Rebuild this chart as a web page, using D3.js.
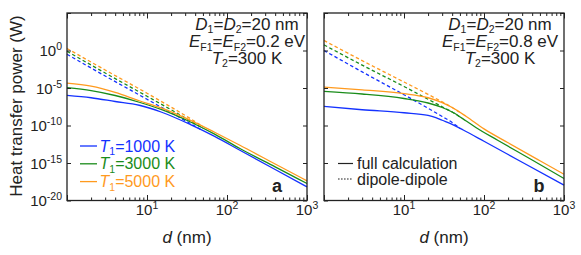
<!DOCTYPE html>
<html>
<head>
<meta charset="utf-8">
<script src="https://cdn.jsdelivr.net/npm/d3@7"></script>
<style>
  body { margin: 0; background: #fff; }
  text { font-family: "Liberation Sans", Arial, Helvetica, sans-serif; }
</style>
</head>
<body>
<div id="chart"></div>
<script>
// ---- data (log10 of heat transfer power in W) ----
const temps = [1000, 3000, 5000]; // T1 in K

// panel a : EF = 0.2 eV
const aFullD = [1, 2, 4, 8, 15, 35, 70, 145, 400, 1000];
const aFull1000 = [-5.98, -6.3, -6.8, -7.3, -8.2, -9.88, -11.45, -13.3, -15.87, -18.18];
const aFull3000 = [-4.96, -5.35, -6.0, -6.9, -7.85, -9.53, -11.15, -13.07, -15.52, -17.73];
const aFull5000 = [-4.35, -4.75, -5.58, -6.7, -7.65, -9.31, -10.9, -12.63, -15.13, -17.38];
const aDipD = [1, 3, 10, 20, 35, 50];
const aDip1000 = [-0.5, -3.4, -6.5, -8.3, -9.75, -10.71];
const aDip3000 = [-0.1, -3.0, -6.1, -7.9, -9.4, -10.39];
const aDip5000 = [0.27, -2.6, -5.7, -7.55, -9.1, -10.15];

// panel b : EF = 0.8 eV
const bFullD1000 = [1, 3, 10, 20, 25, 30, 40, 55, 100, 300, 1000];
const bFull1000 = [-7.45, -7.9, -8.3, -8.65, -8.95, -9.3, -9.85, -10.6, -12.1, -14.9, -17.95];
const bFullD3000 = [1, 3, 10, 20, 30, 40, 60, 80, 150, 400, 1000];
const bFull3000 = [-5.45, -5.8, -6.4, -7.0, -7.6, -8.2, -9.4, -10.3, -12.0, -14.6, -17.06];
const bFullD5000 = [1, 3, 10, 20, 30, 40, 60, 100, 200, 500, 1000];
const bFull5000 = [-4.88, -5.25, -5.75, -6.3, -6.95, -7.6, -8.8, -10.45, -12.3, -14.7, -16.5];
const bDipD = [1, 3, 10, 20, 30, 40, 50];
const bDip1000 = [0, -2.85, -5.9, -7.7, -8.8, -9.6, -10.4];
const bDip3000 = [0.75, -1.95, -4.8, -6.5, -7.5, -8.2, -8.86];
const bDip5000 = [1.33, -1.35, -4.2, -5.85, -6.85, -7.6, -8.26];

// axis ticks
const xMajor = [1, 10, 100, 1000];
const xLabels = [10, 100, 1000];
const yMajor = [1e-20, 1e-15, 1e-10, 1e-5, 1e0, 1e5];
const yLabels = [1e-20, 1e-15, 1e-10, 1e-5, 1e0];

const colors = ["#1432ff", "#1a8c1a", "#ff9a1e"];
const ink = "#222";

const width = 581, height = 255;
const plotTop = 13, plotBottom = 200.5;

const svg = d3.select("#chart").append("svg")
  .attr("width", width)
  .attr("height", height);

const y = d3.scaleLog([1e-20, 1e5], [plotBottom, plotTop]);

const panels = [
  {
    x0: 67, x1: 307, letter: "a", ef: "0.2", cx: 247, ylabels: true,
    full: [[aFullD, aFull1000], [aFullD, aFull3000], [aFullD, aFull5000]],
    dip: [[aDipD, aDip1000], [aDipD, aDip3000], [aDipD, aDip5000]],
  },
  {
    x0: 324, x1: 564, letter: "b", ef: "0.8", cx: 500, ylabels: false,
    full: [[bFullD1000, bFull1000], [bFullD3000, bFull3000], [bFullD5000, bFull5000]],
    dip: [[bDipD, bDip1000], [bDipD, bDip3000], [bDipD, bDip5000]],
  },
];

const xMinor = [];
[1, 10, 100].forEach((dec) => {
  for (let k = 2; k <= 9; k++) xMinor.push(dec * k);
});

function pow10(t, exp) {
  t.append("tspan").text("10");
  t.append("tspan").attr("font-size", 10.5).attr("dy", -6).text(exp);
}

// parts: [text, "i" italic | "s" subscript | ""]
function rich(t, parts, subSize = 10.5, drop = 3.5) {
  let shift = 0;
  parts.forEach(([s, kind]) => {
    const want = kind === "s" ? drop : 0;
    const ts = t.append("tspan").text(s);
    if (want !== shift) ts.attr("dy", want - shift);
    if (kind === "s") ts.attr("font-size", subSize);
    if (kind === "i") ts.attr("font-style", "italic");
    shift = want;
  });
}

panels.forEach((p) => {
  const x = d3.scaleLog([1, 1000], [p.x0, p.x1]);
  const g = svg.append("g");

  const line = d3.line()
    .x((d) => x(d[0]))
    .y((d) => y(Math.pow(10, d[1])))
    .curve(d3.curveMonotoneX);

  // dipole-dipole (dashed)
  p.dip.forEach(([D, V], i) => {
    g.append("path")
      .attr("fill", "none")
      .attr("stroke", colors[i])
      .attr("stroke-width", 1.3)
      .attr("stroke-dasharray", "3.5,2.5")
      .attr("d", line(D.map((d, j) => [d, V[j]])));
  });

  // full calculation (solid)
  p.full.forEach(([D, V], i) => {
    g.append("path")
      .attr("fill", "none")
      .attr("stroke", colors[i])
      .attr("stroke-width", 1.3)
      .attr("d", line(D.map((d, j) => [d, V[j]])));
  });

  // ticks, all pointing inward
  const tickAxis = (axis, vals, size) => axis.tickValues(vals).tickSize(-size).tickFormat(() => "");
  const addAxis = (axis, tr) => {
    g.append("g").attr("transform", tr).call(axis)
      .call((a) => a.select(".domain").remove())
      .call((a) => a.selectAll(".tick line").attr("stroke", ink).attr("stroke-width", 1));
  };
  addAxis(tickAxis(d3.axisBottom(x), xMajor, 5.5), `translate(0,${plotBottom})`);
  addAxis(tickAxis(d3.axisBottom(x), xMinor, 3), `translate(0,${plotBottom})`);
  addAxis(tickAxis(d3.axisTop(x), xMajor, 5.5), `translate(0,${plotTop})`);
  addAxis(tickAxis(d3.axisTop(x), xMinor, 3), `translate(0,${plotTop})`);
  addAxis(tickAxis(d3.axisLeft(y), yMajor, 4), `translate(${p.x0},0)`);
  addAxis(tickAxis(d3.axisRight(y), yMajor, 4), `translate(${p.x1},0)`);

  // frame
  g.append("rect")
    .attr("x", p.x0).attr("y", plotTop)
    .attr("width", p.x1 - p.x0).attr("height", plotBottom - plotTop)
    .attr("fill", "none").attr("stroke", ink).attr("stroke-width", 1.3);

  // x tick labels
  g.selectAll(".xl").data(xLabels).join("text")
    .attr("x", (d) => x(d)).attr("y", 215)
    .attr("text-anchor", "middle").attr("font-size", 15).attr("fill", ink)
    .each(function (d) { pow10(d3.select(this), String(Math.round(Math.log10(d)))); });

  // y tick labels
  if (p.ylabels) {
    g.selectAll(".yl").data(yLabels).join("text")
      .attr("x", 62).attr("y", (d) => y(d) + 5.5)
      .attr("text-anchor", "end").attr("font-size", 15).attr("fill", ink)
      .each(function (d) { pow10(d3.select(this), String(Math.round(Math.log10(d)))); });
  }

  // x axis title
  rich(g.append("text")
    .attr("x", (p.x0 + p.x1) / 2).attr("y", 243)
    .attr("text-anchor", "middle").attr("font-size", 17).attr("fill", ink),
    [["d", "i"], [" (nm)", ""]]);

  // parameters
  const ann = g.append("g").attr("fill", ink).attr("font-size", 17).attr("text-anchor", "middle");
  rich(ann.append("text").attr("x", p.cx).attr("y", 29.5),
    [["D", "i"], ["1", "s"], ["=", ""], ["D", "i"], ["2", "s"], ["=20 nm", ""]]);
  rich(ann.append("text").attr("x", p.cx).attr("y", 47),
    [["E", "i"], ["F1", "s"], ["=", ""], ["E", "i"], ["F2", "s"], [`=${p.ef} eV`, ""]]);
  rich(ann.append("text").attr("x", p.cx).attr("y", 63.5),
    [["T", "i"], ["2", "s"], ["=300 K", ""]]);

  // panel letter
  g.append("text")
    .attr("x", p.letter === "a" ? 277 : 539).attr("y", 192)
    .attr("text-anchor", "middle").attr("font-size", 18).attr("font-weight", "bold")
    .attr("fill", ink).text(p.letter);
});

// y axis title
svg.append("text")
  .attr("transform", "translate(21.5,106) rotate(-90)")
  .attr("text-anchor", "middle").attr("font-size", 17).attr("fill", ink)
  .text("Heat transfer power (W)");

// temperature legend (panel a)
const legA = svg.append("g");
temps.forEach((t, i) => {
  const yy = 146 + i * 17.8;
  legA.append("line")
    .attr("x1", 80).attr("x2", 97).attr("y1", yy).attr("y2", yy)
    .attr("stroke", colors[i]).attr("stroke-width", 1.3);
  rich(legA.append("text")
    .attr("x", 99.5).attr("y", yy + 5.5)
    .attr("font-size", 16).attr("fill", colors[i]),
    [["T", "i"], ["1", "s"], [`=${t} K`, ""]], 10.5, 3.5);
});

// line-style legend (panel b)
const legB = svg.append("g");
[["full calculation", null], ["dipole-dipole", "1.6,1.4"]].forEach(([label, dash], i) => {
  const yy = 163.5 + i * 15.5;
  legB.append("line")
    .attr("x1", 338).attr("x2", 353).attr("y1", yy).attr("y2", yy)
    .attr("stroke", ink).attr("stroke-width", 1.2)
    .attr("stroke-dasharray", dash);
  legB.append("text")
    .attr("x", 357).attr("y", yy + 5.5)
    .attr("font-size", 16).attr("fill", ink)
    .text(label);
});
</script>
</body>
</html>
